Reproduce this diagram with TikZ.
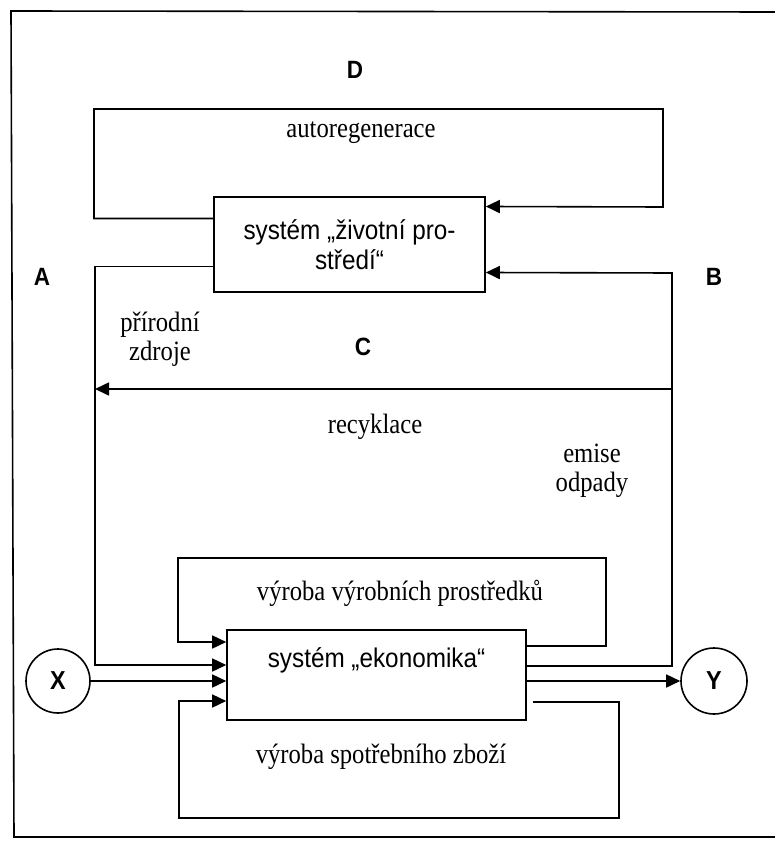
\documentclass[tikz,border=0pt]{standalone}
\usepackage{fontspec}
\setmainfont[FakeStretch=0.88]{Liberation Serif}
\setsansfont[FakeStretch=0.9]{Liberation Sans}
\usetikzlibrary{arrows.meta}
\begin{document}
\begin{tikzpicture}[x=1pt, y=-1pt, line width=1.6pt]
\tikzset{blok/.style={draw, rectangle, font=\sffamily\fontsize{27}{30}\selectfont, align=center}}
\tikzset{kruh/.style={draw, circle, minimum size=64pt, inner sep=0pt, font=\sffamily\bfseries\fontsize{26}{29}\selectfont}}
\tikzset{sipka/.style={-{Triangle[length=14pt, width=13pt]}}}
\tikzset{popis/.style={font=\fontsize{28}{29}\selectfont, align=center}}
\tikzset{pismeno/.style={font=\sffamily\bfseries\fontsize{25}{29}\selectfont}}
\useasboundingbox (0,0) rectangle (775,842);
\draw (775,12) -- (11,11) -- (14,837) -- (775,837);
\node[blok, minimum width=271pt, minimum height=95pt] (ZP) at (349.5,244.5) {systém „životní pro-\\středí“};
\node[blok, minimum width=299pt, inner sep=0pt, text height=37pt, text depth=53pt] (EK) at (376.5,675) {systém „ekonomika“};
\node[kruh] (X) at (58,681) {X};
\node[kruh, minimum size=66pt] (Y) at (714,681) {Y};
\node[pismeno] (A) at (42,277) {A};
\node[pismeno] (B) at (714,277) {B};
\node[pismeno] (C) at (363,347) {C};
\node[pismeno] (D) at (355,70) {D};
\node[popis] (L1) at (361,133) {autoregenerace};
\node[popis] (L2) at (160,339) {přírodní\\zdroje};
\node[popis] (L3) at (375,427) {recyklace};
\node[popis] (L4) at (592,471) {emise\\odpady};
\node[popis] (L5) at (400,593) {výroba výrobních prostředků};
\node[popis] (L6) at (381,757) {výroba spotřebního zboží};
\coordinate (C1) at (671,389);
\coordinate (C2) at (95,389);
\draw[sipka] ([yshift=26pt]ZP.west) -| (94,109) -| (663,207) -- ([yshift=38pt]ZP.east);
\draw[sipka] ([yshift=-22pt]ZP.west) -| (95,665) -- ([yshift=10pt]EK.west);
\draw[sipka] ([yshift=9pt]EK.east) -| (672,273) -- ([yshift=-28pt]ZP.east);
\draw[sipka] (C1) -- (C2);
\draw[sipka] ([yshift=29pt]EK.east) -| (606,558) -| (178,642) -- ([yshift=33pt]EK.west);
\draw[sipka] ([xshift=6pt, yshift=-27pt]EK.east) -| (619,818) -| (179,701) -- ([yshift=-26pt]EK.west);
\draw[sipka] (X.east) -- (X.east -| EK.west);
\draw[sipka] (Y.west -| EK.east) -- (Y.west);
\end{tikzpicture}
\end{document}
